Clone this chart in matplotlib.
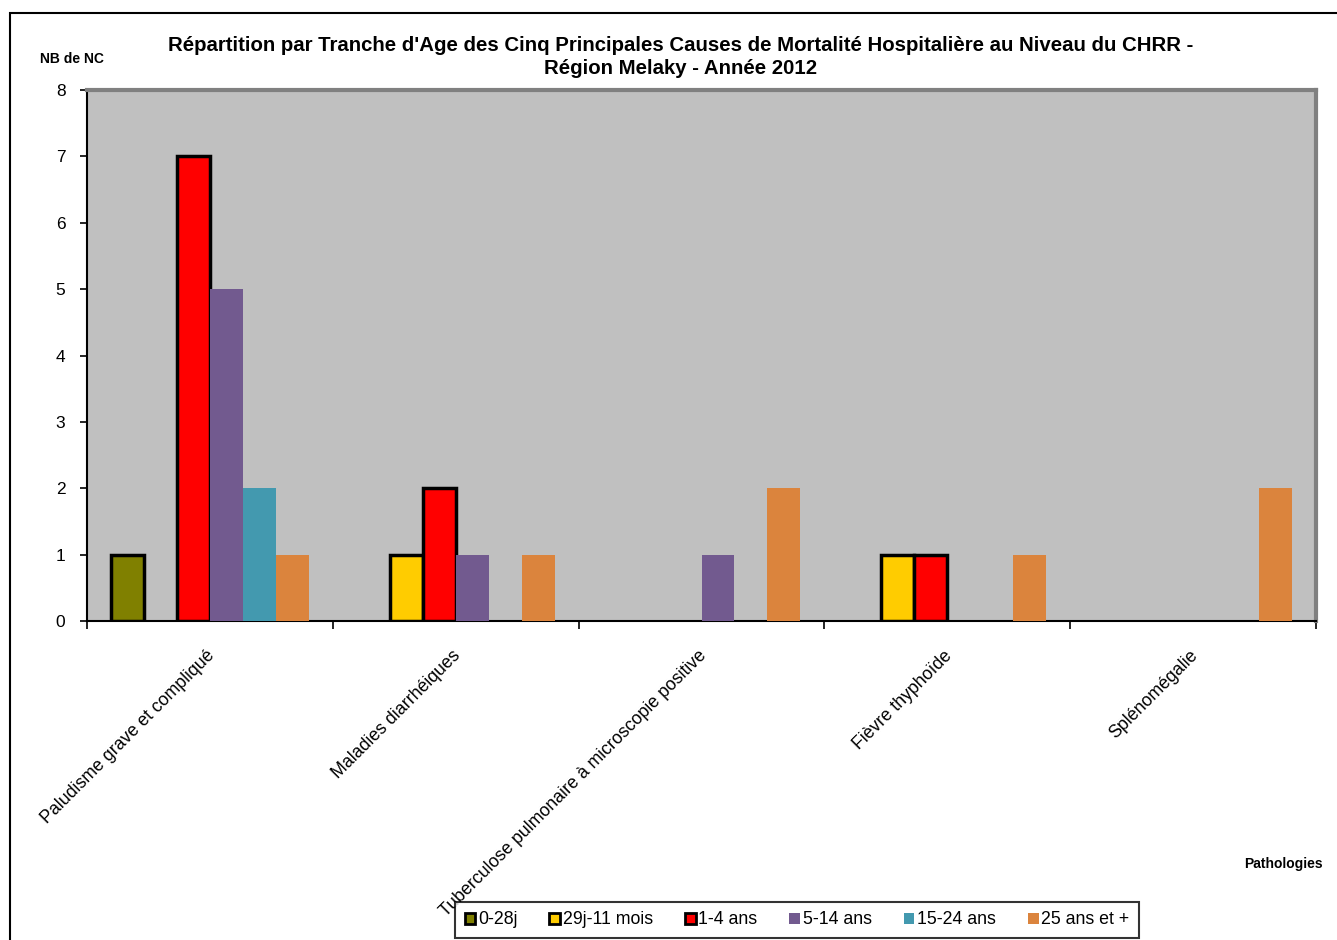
import matplotlib
matplotlib.use("Agg")
import matplotlib.pyplot as plt
import numpy as np
from matplotlib.patches import Rectangle, Patch

plt.rcParams['font.family'] = ['Liberation Sans', 'DejaVu Sans']

categories = ["Paludisme grave et compliqué", "Maladies diarrhéiques",
              "Tuberculose pulmonaire à microscopie positive", "Fièvre thyphoïde",
              "Splénomégalie"]
series_names = ["0-28j", "29j-11 mois", "1-4 ans", "5-14 ans", "15-24 ans", "25 ans et +"]
values = {
    "0-28j":       [1, 0, 0, 0, 0],
    "29j-11 mois": [0, 1, 0, 1, 0],
    "1-4 ans":     [7, 2, 0, 1, 0],
    "5-14 ans":    [5, 1, 1, 0, 0],
    "15-24 ans":   [2, 0, 0, 0, 0],
    "25 ans et +": [1, 1, 2, 1, 2],
}
colors = ["#808000", "#FFCC00", "#FF0000", "#725A8F", "#4399AF", "#DB843D"]
edged = [True, True, True, False, False, False]

fig = plt.figure(figsize=(13.37, 9.4), dpi=100)
ax = fig.add_axes([87/1337, 1-621/940, (1316-87)/1337, (621-90)/940])
ax.set_facecolor("#C0C0C0")

n = len(series_names)
x = np.arange(len(categories))
group_w = 198/246
bw = group_w / n
for i, name in enumerate(series_names):
    vals = np.array(values[name], dtype=float)
    xs = x - group_w/2 + bw*(i+0.5)
    mask = vals > 0
    ax.bar(xs[mask], vals[mask], width=bw, color=colors[i],
           edgecolor="black" if edged[i] else "none",
           linewidth=2.5 if edged[i] else 0, zorder=3)

ax.set_xlim(-0.5, len(categories)-0.5)
ax.set_ylim(0, 8)
ax.set_yticks(range(0, 9))
ax.tick_params(axis='y', direction='out', length=5, width=1.2, labelsize=12.5, pad=14)
for lbl in ax.get_yticklabels():
    lbl.set_horizontalalignment('center')
ax.set_xticks(x - 0.015)
ax.set_xticklabels(categories, rotation=45, ha='right', rotation_mode='anchor', fontsize=12.8)
ax.tick_params(axis='x', which='major', length=0, pad=19)
ax.set_xticks(np.arange(len(categories)+1)-0.5, minor=True)
ax.tick_params(axis='x', which='minor', direction='out', length=6, width=1.2)

ax.spines['left'].set_color('black')
ax.spines['left'].set_linewidth(1.5)
ax.spines['bottom'].set_color('black')
ax.spines['bottom'].set_linewidth(1.5)
ax.spines['top'].set_color('#808080')
ax.spines['top'].set_linewidth(3)
ax.spines['right'].set_color('#808080')
ax.spines['right'].set_linewidth(3)

fig.text(681/1337, 1-57/940,
         "Répartition par Tranche d'Age des Cinq Principales Causes de Mortalité Hospitalière au Niveau du CHRR -\nRégion Melaky - Année 2012",
         ha='center', va='center', fontsize=14.7, fontweight='bold', linespacing=1.3)
fig.text(72/1337, 1-59/940, "NB de NC", ha='center', va='center', fontsize=10, fontweight='bold')
fig.text(1283/1337, 1-864/940, "Pathologies", ha='center', va='center', fontsize=10, fontweight='bold')

# outer border
fig.patches.append(Rectangle((10/1337, -0.01), 1.02, 1-13/940+0.01, transform=fig.transFigure,
                             fill=False, edgecolor='black', linewidth=1.5))

handles = [Patch(facecolor=colors[i], edgecolor='black' if edged[i] else 'none',
                 linewidth=2 if edged[i] else 0) for i in range(n)]
leg = fig.legend(handles, series_names, loc='center', bbox_to_anchor=(797/1337, 1-920/940),
                 ncol=n, fontsize=12.8, frameon=True, fancybox=False, edgecolor='black',
                 handlelength=0.6, handleheight=0.6, handletextpad=0.15, columnspacing=1.8,
                 borderpad=0.55)
leg.get_frame().set_linewidth(1.5)

fig.savefig("out.png", dpi=100, facecolor='white')
